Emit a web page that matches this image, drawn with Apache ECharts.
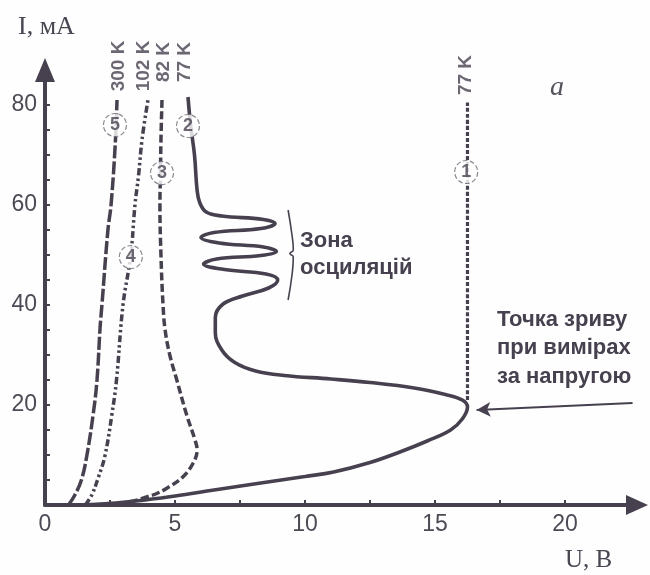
<!DOCTYPE html>
<html>
<head>
<meta charset="utf-8">
<script src="https://cdn.jsdelivr.net/npm/echarts@6/dist/echarts.min.js"></script>
<style>
html,body{margin:0;padding:0;background:#fefefe;}
#c{width:650px;height:575px;}
</style>
</head>
<body>
<div id="c"></div>
<script>
// ---- data (U in volts, I in mA) ----
const curve5_300K = [[0.9,0],[1.15,2],[1.4,5],[1.6,9.6],[1.85,18],[2.0,25],[2.12,35.6],[2.19,40],[2.42,55],[2.54,60],[2.7,72],[2.77,81]];
const curve4_102K = [[1.55,0],[1.8,2],[2.05,5.5],[2.3,9.7],[2.57,18],[2.75,25],[3.0,40],[3.3,50],[3.46,60],[3.6,66],[3.73,73],[3.96,81]];
const curve3_82K = [[1.5,0],[2.6,0.2],[3.4,0.8],[3.9,1.6],[4.3,2.3],[4.7,3.4],[5.3,5.6],[5.7,8.4],[5.85,11],[5.77,13],[5.45,18],[5.07,25],[4.8,30],[4.62,35],[4.54,40],[4.46,50],[4.42,60],[4.44,66],[4.46,73],[4.5,81]];
const curve2_77K = [[0.8,0],[2,0.15],[3.5,0.8],[5,1.8],[6.5,3],[8.3,4.4],[10,5.7],[11.1,6.6],[12.5,8.5],[13.65,10.6],[14.7,12.8],[15.6,15],[16.05,17.2],[16.25,19.6],[16.05,21],[15.4,22.1],[14.2,23.4],[12.5,24.5],[11,25.2],[9.2,25.9],[8.1,26.8],[7.3,28.5],[6.8,31],[6.55,34.5],[6.55,37.5],[6.85,40.2],[7.6,41.8],[8.6,43.4],[8.95,45],[8.5,46.2],[6.9,47.1],[6.1,48.2],[6.6,49.2],[8.3,49.9],[8.9,50.7],[8.4,51.6],[6.7,52.4],[6.0,53.5],[6.5,54.5],[8.3,55.3],[8.85,56.3],[8.4,57.1],[6.8,57.8],[6.2,58.6],[5.95,60.5],[5.85,63],[5.75,70],[5.6,76],[5.5,81.6]];
const curve1_77K = [[16.25,21],[16.25,80.5]];

const tempLabels = ['300 K','102 K','82 K','77 K','77 K'];
const tempLabelAt = [[2.85,87.8],[3.81,87.8],[4.58,88.6],[5.38,88.6],[16.19,86]];
const curveNumbers = ['5','4','3','2','1'];
const curveNumberAt = [[2.69,76],[3.3,49.6],[4.5,66.4],[5.5,75.8],[16.2,66.6]];
const bracketPts = [[9.35,59],[9.5,54],[9.55,51],[9.42,50.3],[9.55,49.6],[9.5,46],[9.35,41]];
const arrowFrom = [22.6,20.4], arrowTo = [16.6,19.0];

const xTicks = [2.5,5,7.5,10,12.5,15,17.5,20];
const xTickLabels = [0,5,10,15,20];
const yTicks = [5,10,15,20,25,30,35,40,45,50,55,60,65,70,75,80];
const yTickLabels = [20,40,60,80];

// ---- chart ----
const ink = '#47414f';
const chart = echarts.init(document.getElementById('c'), null, {renderer:'canvas'});
const sans = '"Liberation Sans", Arial, sans-serif';
const serif = '"Liberation Serif", "Times New Roman", serif';

function lineSeries(data, type, width){
  return {type:'line', data, smooth:0.4, symbol:'none', clip:false, z:2,
    lineStyle:{color:ink, width:width||3.5, type:type, cap:'butt'}};
}

const option = {
  backgroundColor:'#fefefe',
  animation:false,
  grid:{left:45, right:13, top:70, bottom:70, outerBoundsMode:'none'},
  xAxis:{type:'value', min:0, max:22.77,
    axisLine:{show:true, symbol:['none','triangle'], symbolSize:[20,22], lineStyle:{color:ink, width:4}},
    axisTick:{show:true, inside:true, length:5, customValues:xTicks, lineStyle:{color:ink, width:2}},
    axisLabel:{customValues:xTickLabels, fontSize:23, color:'#4d4a55', margin:8, fontFamily:sans},
    splitLine:{show:false}},
  yAxis:{type:'value', min:0, max:87,
    axisLine:{show:true, symbol:['none','triangle'], symbolSize:[20,24], lineStyle:{color:ink, width:4}},
    axisTick:{show:true, inside:true, length:5, customValues:yTicks, lineStyle:{color:ink, width:2}},
    axisLabel:{customValues:yTickLabels, fontSize:23, color:'#4d4a55', margin:8, fontFamily:sans},
    splitLine:{show:false}},
  series:[
    lineSeries(curve5_300K, [13,3], 3.5),
    lineSeries(curve4_102K, [7,3,2.5,3,2.5,3], 3.5),
    lineSeries(curve3_82K, [8,3.5], 3.5),
    lineSeries(curve2_77K, 'solid', 3.6),
    Object.assign(lineSeries(curve1_77K, [4,2], 3.2), {
      markLine:{silent:true, symbol:['none','arrow'], symbolSize:[11,14],
        label:{show:false}, lineStyle:{color:ink, width:2, type:'solid'},
        data:[[{coord:arrowFrom},{coord:arrowTo}]]}
    }),
    {type:'line', data:bracketPts, smooth:0.5, symbol:'none', clip:false, z:2,
      lineStyle:{color:ink, width:1.6}},
    {type:'scatter', clip:false, z:5, symbolSize:23,
      itemStyle:{color:'#ffffff', borderColor:'#6f6a76', borderWidth:1.2, borderType:'dashed'},
      label:{show:true, position:'inside', formatter:p=>p.name, fontSize:18, fontWeight:'bold', color:ink, fontFamily:sans},
      data:curveNumbers.map((n,i)=>({name:n, value:curveNumberAt[i]}))},
    {type:'scatter', clip:false, z:5, symbolSize:2, itemStyle:{color:'rgba(0,0,0,0)'},
      label:{show:true, position:'inside', rotate:90, formatter:p=>p.name, fontSize:19, fontWeight:'bold', color:ink, fontFamily:sans},
      data:tempLabels.map((n,i)=>({name:n, value:tempLabelAt[i]}))}
  ],
  graphic:[
    {type:'text', x:18, y:27, style:{text:'I, мА', font:'26px '+serif, fill:'#4a4652', verticalAlign:'middle'}},
    {type:'text', x:565, y:560, style:{text:'U, В', font:'25px '+serif, fill:'#4a4652', verticalAlign:'middle'}},
    {type:'text', x:557, y:88, style:{text:'a', font:'italic 28px '+serif, fill:'#55525c', align:'center', verticalAlign:'middle'}},
    {type:'text', x:300, y:241, style:{text:'Зона', font:'bold 22px '+sans, fill:ink, verticalAlign:'middle'}},
    {type:'text', x:300, y:268, style:{text:'осциляцій', font:'bold 22px '+sans, fill:ink, verticalAlign:'middle'}},
    {type:'text', x:497, y:320, style:{text:'Точка зриву', font:'bold 22px '+sans, fill:ink, verticalAlign:'middle'}},
    {type:'text', x:497, y:348, style:{text:'при вимірах', font:'bold 22px '+sans, fill:ink, verticalAlign:'middle'}},
    {type:'text', x:497, y:377, style:{text:'за напругою', font:'bold 22px '+sans, fill:ink, verticalAlign:'middle'}}
  ]
};
chart.setOption(option);
</script>
</body>
</html>
